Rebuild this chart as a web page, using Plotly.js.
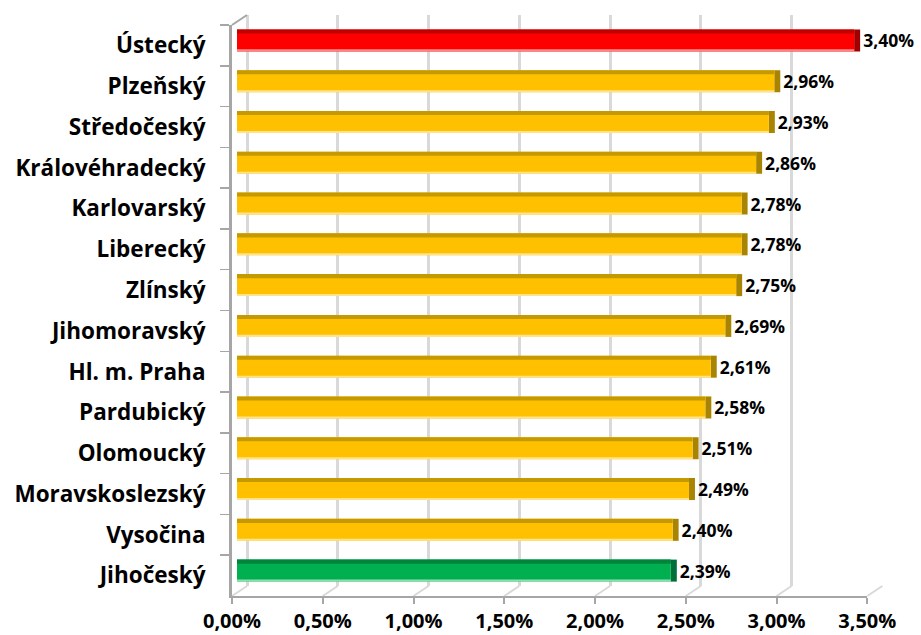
<!DOCTYPE html>
<html>
<head>
<meta charset="utf-8">
<script src="https://cdn.plot.ly/plotly-3.0.1.min.js"></script>
<style>html,body{margin:0;padding:0;background:#fff;}#chart{width:921px;height:635px;}</style>
</head>
<body>
<div id="chart"></div>
<script>
// ---- data ----
var regions = ["Ústecký","Plzeňský","Středočeský","Královéhradecký","Karlovarský","Liberecký","Zlínský","Jihomoravský","Hl. m. Praha","Pardubický","Olomoucký","Moravskoslezský","Vysočina","Jihočeský"];
var values = [3.40,2.96,2.93,2.86,2.78,2.78,2.75,2.69,2.61,2.58,2.51,2.49,2.40,2.39];
var tickVals = [0,0.5,1,1.5,2,2.5,3,3.5];
var tickLabels = ["0,00%","0,50%","1,00%","1,50%","2,00%","2,50%","3,00%","3,50%"];
var valueLabels = values.map(function(v){return v.toFixed(2).replace('.',',')+'%';});

// ---- styling / geometry ----
var W = 921, H = 635;
var FONT = "'Open Sans', Lato, sans-serif";
function px(x){return x/W;}
function py(y){return 1 - y/H;}
var floor = {x0:232, x1:867.3, y:596, top:25};
var wall  = {dx:15, dy:10};
var barShift = {dx:5, dy:5};
var n = regions.length;
var catRange = [n-0.5, -0.5];
function faceColor(i){ return i===0 ? '#FF0000' : (i===n-1 ? '#00B050' : '#FFC000'); }
function topColor(i){ return i===0 ? '#C00000' : (i===n-1 ? '#00843C' : '#C49A00'); }
function sideColor(i){ return i===0 ? '#A00000' : (i===n-1 ? '#00703A' : '#A88400'); }
function lowColor(i){ return i===0 ? '#FF8C8C' : (i===n-1 ? '#8FDDB0' : '#FFE28A'); }
var idx = regions.map(function(_,i){return i;});
var BW = 0.54;
var depth = 6/181.8;

var traces = [
  {type:'scatter', x:[null], y:[null], xaxis:'x', yaxis:'y', hoverinfo:'skip', showlegend:false},
  {type:'bar', orientation:'h', y:regions, x:values.map(function(){return depth;}), base:values,
   xaxis:'x2', yaxis:'y2', width:BW, marker:{color:idx.map(sideColor)},
   text:valueLabels, textposition:'outside', cliponaxis:false, constraintext:'none',
   textfont:{family:FONT, size:17.5, color:'#000', weight:'bold'}, hoverinfo:'skip', showlegend:false},
  {type:'bar', orientation:'h', y:regions, x:values, xaxis:'x2', yaxis:'y2', width:BW,
   marker:{color:idx.map(faceColor)}, showlegend:false},
  {type:'bar', orientation:'h', y:regions, x:values, xaxis:'x2', yaxis:'y2', width:0.1, offset:-BW/2,
   marker:{color:idx.map(topColor)}, hoverinfo:'skip', showlegend:false},
  {type:'bar', orientation:'h', y:regions, x:values, xaxis:'x2', yaxis:'y2', width:0.05, offset:BW/2-0.05,
   marker:{color:idx.map(lowColor)}, hoverinfo:'skip', showlegend:false},
  {type:'scatter', x:[null], y:[null], xaxis:'x3', yaxis:'y3', hoverinfo:'skip', showlegend:false}
];

var gridGray = '#D9D9D9';
var lineGray = '#A6A6A6';

var shapes = [];
// floor diagonals (from floor ticks to back wall)
tickVals.forEach(function(v){
  var fx = floor.x0 + (floor.x1-floor.x0)*v/3.5;
  shapes.push({type:'line', xref:'paper', yref:'paper', x0:px(fx), y0:py(floor.y), x1:px(fx+wall.dx), y1:py(floor.y-wall.dy),
    line:{color:gridGray, width:2}, layer:'below'});
});
// left wall top diagonal
shapes.push({type:'line', xref:'paper', yref:'paper', x0:px(floor.x0), y0:py(floor.top), x1:px(floor.x0+wall.dx), y1:py(floor.top-wall.dy),
  line:{color:lineGray, width:2}});

var layout = {
  width:W, height:H,
  margin:{l:0,r:0,t:0,b:0},
  paper_bgcolor:'#fff', plot_bgcolor:'rgba(0,0,0,0)',
  barmode:'overlay',
  separators:',.',
  showlegend:false,
  // back wall grid
  xaxis:{domain:[px(floor.x0+wall.dx), px(floor.x1+wall.dx)], range:[0,3.5], anchor:'y', tickvals:tickVals,
    showgrid:true, gridcolor:gridGray, gridwidth:3, zeroline:true, zerolinecolor:gridGray, zerolinewidth:3,
    showticklabels:false, ticks:'', showline:false, fixedrange:true},
  yaxis:{domain:[1-(floor.y-wall.dy)/H, 1-(floor.top-wall.dy)/H], range:catRange, type:'category', categoryarray:regions,
    anchor:'x', showgrid:false, zeroline:false, showticklabels:false, ticks:'', showline:false, fixedrange:true},
  // bars
  xaxis2:{domain:[px(floor.x0+barShift.dx), px(floor.x1+barShift.dx)], range:[0,3.5], anchor:'y2', visible:false, fixedrange:true},
  yaxis2:{domain:[1-(floor.y-barShift.dy)/H, 1-(floor.top-barShift.dy)/H], range:catRange, type:'category', categoryarray:regions,
    anchor:'x2', visible:false, fixedrange:true},
  // floor axis & left wall with labels
  xaxis3:{domain:[px(floor.x0), px(floor.x1)], range:[0,3.5], anchor:'y3', tickvals:tickVals, ticktext:tickLabels,
    showgrid:false, zeroline:false, showline:true, linecolor:lineGray, linewidth:2,
    ticks:'outside', ticklen:6, tickwidth:2, tickcolor:lineGray, ticklabelstandoff:0,
    tickfont:{family:FONT, size:20, color:'#000', weight:'bold'}, fixedrange:true},
  yaxis3:{domain:[1-floor.y/H, 1-floor.top/H], range:catRange, type:'category', categoryarray:regions, anchor:'x3',
    showgrid:false, zeroline:false, showline:true, linecolor:lineGray, linewidth:3,
    ticks:'outside', tickson:'boundaries', ticklen:9, tickwidth:1.5, tickcolor:lineGray, ticklabelstandoff:19,
    tickfont:{family:FONT, size:22.5, color:'#000', weight:'bold'}, fixedrange:true},
  shapes:shapes
};

Plotly.newPlot('chart', traces, layout, {displayModeBar:false, staticPlot:true});
</script>
</body>
</html>
